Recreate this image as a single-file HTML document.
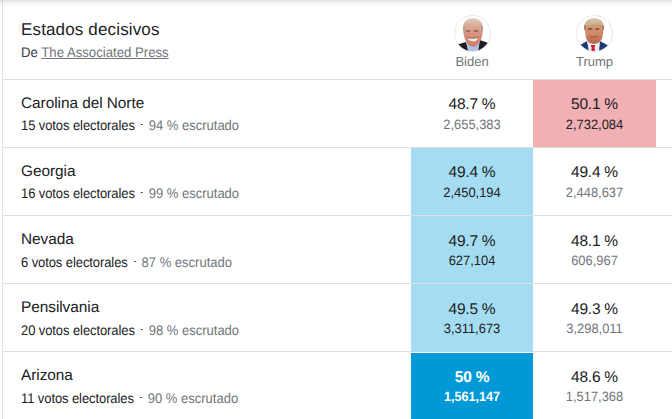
<!DOCTYPE html>
<html><head><meta charset="utf-8">
<style>
html,body{margin:0;padding:0;background:#fff;}
body{width:672px;height:419px;overflow:hidden;position:relative;font-family:"Liberation Sans",sans-serif;text-rendering:geometricPrecision;}
.a{position:absolute;}
.shadow{left:0;top:0;width:672px;height:8px;background:linear-gradient(to bottom,rgba(0,0,0,0.110) 0px,rgba(0,0,0,0.110) 1px,rgba(0,0,0,0.078) 1px,rgba(0,0,0,0.078) 2px,rgba(0,0,0,0.059) 2px,rgba(0,0,0,0.059) 3px,rgba(0,0,0,0.043) 3px,rgba(0,0,0,0.043) 4px,rgba(0,0,0,0.031) 4px,rgba(0,0,0,0.031) 5px,rgba(0,0,0,0.020) 5px,rgba(0,0,0,0.020) 6px,rgba(0,0,0,0.008) 6px,rgba(0,0,0,0.008) 7px,rgba(0,0,0,0) 7px);z-index:10;}
.vline{left:2px;top:0;width:1px;height:419px;background:#dfe1e5;}
.hline{left:3px;width:669px;height:1px;background:#dfdfdf;z-index:3;}
.t{white-space:nowrap;line-height:20px;}
.title{left:21px;top:20px;font-size:17px;letter-spacing:0.15px;color:#202124;}
.src{left:21px;top:42px;font-size:14px;color:#3c4043;transform:scaleX(0.941);transform-origin:0 0;}
.src u{color:#70757a;text-decoration:underline;text-underline-offset:1px;}
.name{font-size:13px;color:#70757a;width:122px;text-align:center;top:52px;}
.cell{width:122px;height:67px;}
.st{left:21px;font-size:15.4px;letter-spacing:-0.05px;color:#202124;margin-top:0.5px;}
.sub{left:21px;font-size:14px;color:#202124;transform:scaleX(0.929);transform-origin:0 0;margin-top:-1px;}
.sub b{font-weight:normal;letter-spacing:-0.1px;}
.sub i{display:inline-block;width:2.15px;height:1.2px;background:#3c4043;margin:0 6px 0 6.8px;vertical-align:5px;}
.sub span{color:#70757a;}
.pct{font-size:15.5px;letter-spacing:-0.25px;color:#202124;text-align:center;margin-top:0.5px;}
.cnt{font-size:13.6px;color:#70757a;text-align:center;transform:scaleX(0.95);}
.dk{color:#202124;}
.wh{color:#fff;font-weight:bold;}
.cnt.wh{transform:scaleX(0.925);}
</style></head><body>
<div class="a shadow"></div>
<div class="a vline"></div>

<div class="a t title">Estados decisivos</div>
<div class="a t src">De <u>The Associated Press</u></div>

<svg class="a" style="left:454px;top:15px" width="37" height="37" viewBox="0 0 37 37">
<defs><clipPath id="cb"><circle cx="18.5" cy="18.5" r="18"/></clipPath>
<linearGradient id="fb" x1="0" y1="0" x2="0" y2="1"><stop offset="0" stop-color="#e0d2c8"/><stop offset="0.22" stop-color="#dcae9c"/><stop offset="0.5" stop-color="#d69684"/><stop offset="1" stop-color="#cc7e6e"/></linearGradient>
</defs>
<circle cx="18.5" cy="18.5" r="18" fill="#fff"/>
<g clip-path="url(#cb)">
<path d="M0 37 L0 31 L5 29.1 L12.1 27 L14.5 37 Z" fill="#1b1c24"/>
<path d="M37 37 L37 30 L33 27.6 L25.8 25.1 L23.5 37 Z" fill="#1b1c24"/>
<path d="M12.6 27.5 L25.8 25.5 L24 37 L14.5 37 Z" fill="#b2c1e6"/>
<path d="M19 3 C24.5 3 28.9 6.5 28.9 13 C28.9 19 28 23.5 25.8 27 C24 30 21.5 31.7 19 31.7 C16.5 31.7 14 30 12.3 27 C10.2 23.5 9.1 19 9.1 13 C9.1 6.5 13.5 3 19 3 Z" fill="url(#fb)"/>
<path d="M9.3 11.5 C9.2 14 9.6 16.5 10.6 18.5 L10.8 11 Z M28.7 11.5 C28.8 14 28.4 16.5 27.4 18.5 L27.2 11 Z" fill="#a49a92"/>
<path d="M12 15.5 Q14.2 14.6 16.4 15.8 L16.2 17 Q14.2 16.2 12.2 16.8 Z M19.8 15.8 Q22.3 14.6 24.6 15.5 L24.4 16.8 Q22.2 16.2 20 17 Z" fill="#8e5a4e"/>
<path d="M13.5 22.6 C16 23.4 21.5 23.4 24.2 22.4 C23 25.8 21 26.3 19 26.3 C17 26.3 14.8 25.8 13.5 22.6 Z" fill="#f2ebe7"/>
<path d="M13.3 22.4 C16 23.5 21.5 23.5 24.4 22.2" stroke="#8c4a42" stroke-width="0.8" fill="none"/>
</g>
<circle cx="18.5" cy="18.5" r="18" fill="none" stroke="#e3e3e3" stroke-width="0.8"/>
</svg>
<svg class="a" style="left:576px;top:15px" width="37" height="37" viewBox="0 0 37 37">
<defs><clipPath id="ct"><circle cx="18.5" cy="18.5" r="18"/></clipPath>
<linearGradient id="ft" x1="0" y1="0" x2="0" y2="1"><stop offset="0" stop-color="#d8a07c"/><stop offset="0.55" stop-color="#cf8a68"/><stop offset="1" stop-color="#b86450"/></linearGradient>
<linearGradient id="ht" x1="0" y1="0" x2="0" y2="1"><stop offset="0" stop-color="#d6c2a8"/><stop offset="1" stop-color="#c0a07c"/></linearGradient>
</defs>
<circle cx="18.5" cy="18.5" r="18" fill="#fff"/>
<g clip-path="url(#ct)">
<path d="M0 37 L0 31 L5 29.6 L11.1 26.1 L13.5 37 Z" fill="#203a76"/>
<path d="M37 37 L37 31 L31.4 30.1 L23.8 26.1 L22.5 37 Z" fill="#203a76"/>
<path d="M11.1 26.1 L23.8 26.1 L23 37 L13 37 Z" fill="#e9edf4"/>
<path d="M14.9 30.1 L19.2 30.1 L18.6 32.7 L19 36 L15.4 36 L15.6 32.7 Z" fill="#d21f30"/>
<path d="M9.2 13 C9 19 9.6 23.5 11.5 26 C13.5 28.5 15.5 28.8 17.8 28.8 C20.2 28.8 22.5 28.5 24.5 26 C26.5 23.5 27.4 19 27.2 13 C27 8 24 5.5 18 5.5 C12 5.5 9.5 8 9.2 13 Z" fill="url(#ft)"/>
<path d="M8.2 15 C7.8 6.5 11.5 3.3 18 3.3 C24.5 3.3 28.3 6.5 27.9 14.5 C27.2 11.5 25.5 9.8 20.5 9.6 C15 9.5 10.5 10.5 8.2 15 Z" fill="url(#ht)"/>
<path d="M8.3 10 L8.5 15 L9.6 16 L9.8 10.5 Z M27.8 10 L27.6 15 L26.6 16 L26.4 10.5 Z" fill="#8c6a58"/>
<path d="M12 13.6 Q14 12.8 16.3 13.6 L16.3 14.8 Q14 14.2 12.2 15 Z M19.2 13.6 Q21.4 12.8 23.2 13.6 L23.1 15 Q21.3 14.2 19.2 14.8 Z" fill="#6e3e2e"/>
<path d="M14.5 21.6 Q17.8 22.4 21.5 21.6" stroke="#9a4c3c" stroke-width="1" fill="none"/>
</g>
<circle cx="18.5" cy="18.5" r="18" fill="none" stroke="#e3e3e3" stroke-width="0.8"/>
</svg>
<div class="a t name" style="left:411px;">Biden</div>
<div class="a t name" style="left:533px;width:123px;">Trump</div>

<div class="a hline" style="top:79px"></div>
<div class="a hline" style="top:147px"></div>
<div class="a hline" style="top:215px"></div>
<div class="a hline" style="top:283px"></div>
<div class="a hline" style="top:351px"></div>

<!-- colored cells -->
<div class="a cell" style="left:533px;width:123px;top:80px;background:#f1b0b4;"></div>
<div class="a cell" style="left:411px;top:148px;height:68px;background:#a4dcf1;"></div>
<div class="a cell" style="left:411px;top:216px;height:68px;background:#a4dcf1;"></div>
<div class="a cell" style="left:411px;top:284px;height:68px;background:#a4dcf1;z-index:4"></div>
<div class="a cell" style="left:411px;top:353px;height:70px;background:#0098d6;"></div>

<!-- row text -->
<div class="a t st" style="top:93px">Carolina del Norte</div>
<div class="a t sub" style="top:116px"><b>15 votos electorales</b><i></i><span>94 % escrutado</span></div>
<div class="a t pct" style="left:411px;width:122px;top:94px">48.7 %</div>
<div class="a t cnt" style="left:411px;width:122px;top:115px">2,655,383</div>
<div class="a t pct" style="left:533px;width:123px;top:94px">50.1 %</div>
<div class="a t cnt dk" style="left:533px;width:123px;top:115px">2,732,084</div>

<div class="a t st" style="top:161px">Georgia</div>
<div class="a t sub" style="top:184px"><b>16 votos electorales</b><i></i><span>99 % escrutado</span></div>
<div class="a t pct" style="left:411px;width:122px;top:162px">49.4 %</div>
<div class="a t cnt dk" style="left:411px;width:122px;top:183px">2,450,194</div>
<div class="a t pct" style="left:533px;width:123px;top:162px">49.4 %</div>
<div class="a t cnt" style="left:533px;width:123px;top:183px">2,448,637</div>

<div class="a t st" style="top:229px">Nevada</div>
<div class="a t sub" style="top:253px"><b>6 votos electorales</b><i></i><span>87 % escrutado</span></div>
<div class="a t pct" style="left:411px;width:122px;top:231px">49.7 %</div>
<div class="a t cnt dk" style="left:411px;width:122px;top:251px">627,104</div>
<div class="a t pct" style="left:533px;width:123px;top:231px">48.1 %</div>
<div class="a t cnt" style="left:533px;width:123px;top:251px">606,967</div>

<div class="a t st" style="top:297px">Pensilvania</div>
<div class="a t sub" style="top:321px"><b>20 votos electorales</b><i></i><span>98 % escrutado</span></div>
<div class="a t pct" style="left:411px;width:122px;top:299px;z-index:5">49.5 %</div>
<div class="a t cnt dk" style="left:411px;width:122px;top:319px;z-index:5">3,311,673</div>
<div class="a t pct" style="left:533px;width:123px;top:299px">49.3 %</div>
<div class="a t cnt" style="left:533px;width:123px;top:319px">3,298,011</div>

<div class="a t st" style="top:365px">Arizona</div>
<div class="a t sub" style="top:389px"><b>11 votos electorales</b><i></i><span>90 % escrutado</span></div>
<div class="a t pct wh" style="left:411px;width:122px;top:367px">50 %</div>
<div class="a t cnt wh" style="left:411px;width:122px;top:387px">1,561,147</div>
<div class="a t pct" style="left:533px;width:123px;top:367px">48.6 %</div>
<div class="a t cnt" style="left:533px;width:123px;top:387px">1,517,368</div>

</body></html>
